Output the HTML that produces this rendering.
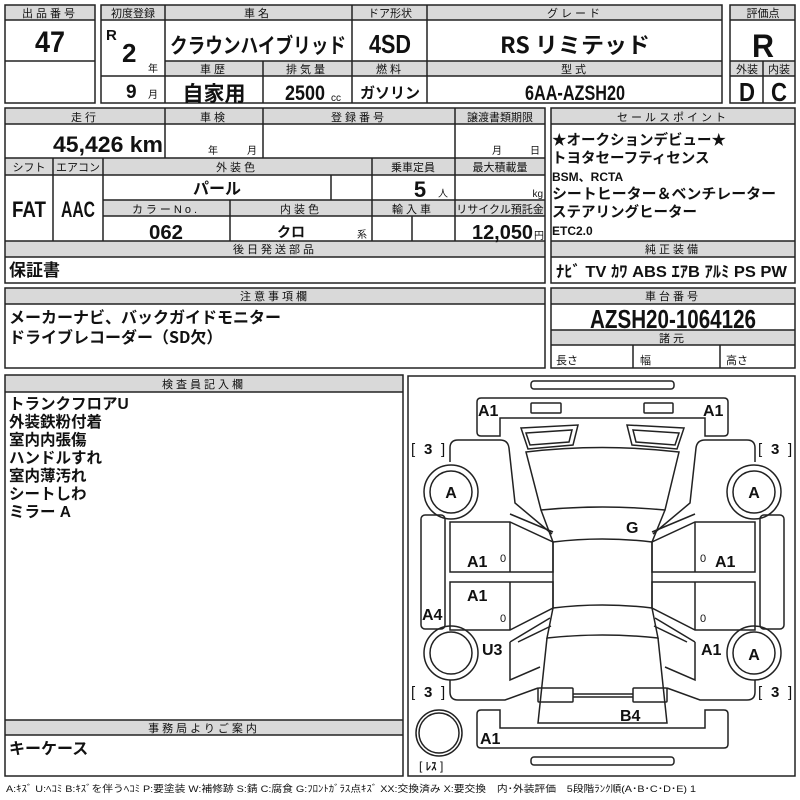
<!DOCTYPE html>
<html><head><meta charset="utf-8"><style>
html,body{margin:0;padding:0;background:#fff;}
svg{display:block;}
text{font-family:"Liberation Sans Narrow","Liberation Sans","Noto Sans CJK JP",sans-serif;fill:#111;}
.h{font-size:11px;text-anchor:middle;letter-spacing:3px;}
.b{font-weight:bold;}
.m{text-anchor:middle;}
.e{text-anchor:end;}
.j{font-family:"Noto Sans CJK JP",sans-serif;font-weight:bold;}
.g{fill:#d9d9d9;stroke:none;}
.L{stroke:#222;stroke-width:1.5;fill:none;}
.c{stroke:#222;stroke-width:1.5;fill:none;}
</style></head><body>
<svg width="800" height="800" viewBox="0 0 800 800" xmlns="http://www.w3.org/2000/svg">
<rect class="g" x="5" y="5" width="90" height="15"/>
<rect class="g" x="101" y="5" width="621" height="15"/>
<rect class="g" x="165" y="61" width="557" height="15"/>
<rect class="g" x="730" y="5" width="65" height="15"/>
<rect class="g" x="730" y="61" width="65" height="15"/>
<rect class="g" x="5" y="108" width="540" height="16"/>
<rect class="g" x="5" y="158" width="540" height="17"/>
<rect class="g" x="103" y="200" width="442" height="16"/>
<rect class="g" x="5" y="241" width="540" height="16"/>
<rect class="g" x="551" y="108" width="244" height="16"/>
<rect class="g" x="551" y="241" width="244" height="16"/>
<rect class="g" x="5" y="288" width="540" height="16"/>
<rect class="g" x="551" y="288" width="244" height="16"/>
<rect class="g" x="551" y="330" width="244" height="15"/>
<rect class="g" x="5" y="375" width="398" height="17"/>
<rect class="g" x="5" y="720" width="398" height="15"/>

<g class="L">
<rect x="5" y="5" width="90" height="98"/>
<path d="M5 20H95M5 61H95"/>
<rect x="101" y="5" width="621" height="98"/>
<path d="M101 20H722M165 61H722M101 76H722M165 5V103M352 5V103M427 5V103M263 61V103"/>
<rect x="730" y="5" width="65" height="98"/>
<path d="M730 20H795M730 61H795M730 76H795M763 61V103"/>
<rect x="5" y="108" width="540" height="175"/>
<path d="M5 124H545M5 158H545M5 175H545M103 200H545M103 216H545M5 241H545M5 257H545"/>
<path d="M165 108V158M263 108V158M455 108V241M53 158V241M103 158V241M372 158V241M331 175V200M230 200V241M412 216V241"/>
<rect x="551" y="108" width="244" height="175"/>
<path d="M551 124H795M551 241H795M551 257H795"/>
<rect x="5" y="288" width="540" height="80"/>
<path d="M5 304H545"/>
<rect x="551" y="288" width="244" height="80"/>
<path d="M551 304H795M551 330H795M551 345H795M633 345V368M720 345V368"/>
<rect x="5" y="375" width="398" height="401"/>
<path d="M5 392H403M5 720H403M5 735H403"/>
<rect x="408" y="376" width="387" height="400"/>
</g>

<text class="h" x="50" y="17">出品番号</text>
<text class="m b" x="50" y="52" font-size="30" textLength="30" lengthAdjust="spacingAndGlyphs">47</text>
<text class="h" x="133" y="17" style="letter-spacing:0">初度登録</text>
<text class="h" x="258" y="17">車名</text>
<text class="h" x="390" y="17" style="letter-spacing:0">ドア形状</text>
<text class="h" x="575" y="17">グレード</text>
<text class="b" x="106" y="40" font-size="15">R</text>
<text class="b" x="122" y="62" font-size="26">2</text>
<text x="148" y="72" font-size="10">年</text>
<text class="b" x="126" y="98" font-size="19">9</text>
<text x="148" y="98" font-size="10">月</text>
<text class="m j" x="258" y="53" font-size="21" textLength="176" lengthAdjust="spacingAndGlyphs">クラウンハイブリッド</text>
<text class="m b" x="390" y="53" font-size="26" textLength="42" lengthAdjust="spacingAndGlyphs">4SD</text>
<text class="m j" x="575" y="53" font-size="22" textLength="150" lengthAdjust="spacingAndGlyphs">RS リミテッド</text>
<text class="h" x="214" y="73">車歴</text>
<text class="h" x="307" y="73">排気量</text>
<text class="h" x="390" y="73">燃料</text>
<text class="h" x="575" y="73">型式</text>
<text class="m j" x="214" y="101" font-size="21">自家用</text>
<text class="b" x="285" y="100" font-size="21" textLength="40" lengthAdjust="spacingAndGlyphs">2500</text>
<text x="331" y="101" font-size="10">cc</text>
<text class="m j" x="390" y="98" font-size="15">ガソリン</text>
<text class="m b" x="575" y="100" font-size="21" textLength="100" lengthAdjust="spacingAndGlyphs">6AA-AZSH20</text>
<text class="h" x="763" y="17" style="letter-spacing:0">評価点</text>
<text class="m b" x="763" y="57" font-size="32" textLength="22" lengthAdjust="spacingAndGlyphs">R</text>
<text class="h" x="747" y="73" style="letter-spacing:0">外装</text>
<text class="h" x="779" y="73" style="letter-spacing:0">内装</text>
<text class="m b" x="747" y="101" font-size="26" textLength="16" lengthAdjust="spacingAndGlyphs">D</text>
<text class="m b" x="779" y="101" font-size="26" textLength="16" lengthAdjust="spacingAndGlyphs">C</text>

<text class="h" x="85" y="121">走行</text>
<text class="h" x="214" y="121">車検</text>
<text class="h" x="359" y="121">登録番号</text>
<text class="h" x="500" y="121" style="letter-spacing:0">譲渡書類期限</text>
<text class="b" x="53" y="152" font-size="22" textLength="110" lengthAdjust="spacingAndGlyphs">45,426 km</text>
<text x="208" y="154" font-size="10">年</text>
<text x="247" y="154" font-size="10">月</text>
<text x="492" y="154" font-size="10">月</text>
<text x="530" y="154" font-size="10">日</text>
<text class="h" x="29" y="171" style="letter-spacing:0">シフト</text>
<text class="h" x="78" y="171" style="letter-spacing:0">エアコン</text>
<text class="h" x="237" y="171">外装色</text>
<text class="h" x="413" y="171" style="letter-spacing:0">乗車定員</text>
<text class="h" x="500" y="171" style="letter-spacing:0">最大積載量</text>
<text class="m b" x="29" y="217" font-size="22" textLength="34" lengthAdjust="spacingAndGlyphs">FAT</text>
<text class="m b" x="78" y="217" font-size="22" textLength="34" lengthAdjust="spacingAndGlyphs">AAC</text>
<text class="m j" x="217" y="194" font-size="16">パール</text>
<text class="m b" x="420" y="197" font-size="22">5</text>
<text x="438" y="197" font-size="10">人</text>
<text class="e" x="543" y="197" font-size="10">kg</text>
<text class="h" x="166" y="213">カラーNo.</text>
<text class="h" x="301" y="213">内装色</text>
<text class="h" x="413" y="213">輸入車</text>
<text class="h" x="500" y="213" font-size="10" style="letter-spacing:0">リサイクル預託金</text>
<text class="m b" x="166" y="239" font-size="20" textLength="34" lengthAdjust="spacingAndGlyphs">062</text>
<text class="m j" x="291" y="237" font-size="14">クロ</text>
<text x="357" y="238" font-size="10">系</text>
<text class="b" x="472" y="239" font-size="20" textLength="61" lengthAdjust="spacingAndGlyphs">12,050</text>
<text x="534" y="239" font-size="10">円</text>
<text class="h" x="275" y="253">後日発送部品</text>
<text class="j" x="9" y="276" font-size="17">保証書</text>

<text class="h" x="673" y="121">セールスポイント</text>
<g class="j" font-size="14.5">
<text x="552" y="145">★オークションデビュー★</text>
<text x="552" y="163">トヨタセーフティセンス</text>
<text x="552" y="181" font-size="12" class="b">BSM、RCTA</text>
<text x="552" y="199" textLength="224" lengthAdjust="spacingAndGlyphs">シートヒーター＆ベンチレーター</text>
<text x="552" y="217">ステアリングヒーター</text>
<text x="552" y="235" font-size="12" class="b">ETC2.0</text>
</g>
<text class="h" x="673" y="253">純正装備</text>
<text class="b" x="556" y="277" font-size="16" textLength="231" lengthAdjust="spacingAndGlyphs">ﾅﾋﾞ TV ｶﾜ ABS ｴｱB ｱﾙﾐ PS PW</text>

<text class="h" x="275" y="300">注意事項欄</text>
<text class="j" x="9" y="323" font-size="16">メーカーナビ、バックガイドモニター</text>
<text class="j" x="9" y="343" font-size="16">ドライブレコーダー（SD欠）</text>
<text class="h" x="673" y="300">車台番号</text>
<text class="m b" x="673" y="328" font-size="26" textLength="166" lengthAdjust="spacingAndGlyphs">AZSH20-1064126</text>
<text class="h" x="673" y="342">諸元</text>
<text x="556" y="364" font-size="11">長さ</text>
<text x="640" y="364" font-size="11">幅</text>
<text x="726" y="364" font-size="11">高さ</text>

<text class="h" x="204" y="388">検査員記入欄</text>
<g class="j" font-size="15.5">
<text x="9" y="409">トランクフロアU</text>
<text x="9" y="427">外装鉄粉付着</text>
<text x="9" y="445">室内内張傷</text>
<text x="9" y="463">ハンドルすれ</text>
<text x="9" y="481">室内薄汚れ</text>
<text x="9" y="499">シートしわ</text>
<text x="9" y="517">ミラー A</text>
</g>
<text class="h" x="204" y="732">事務局よりご案内</text>
<text class="j" x="9" y="754" font-size="16">キーケース</text>

<text x="6" y="792" font-size="9.5" textLength="690" lengthAdjust="spacingAndGlyphs">A:ｷｽﾞ U:ﾍｺﾐ B:ｷｽﾞを伴うﾍｺﾐ P:要塗装 W:補修跡 S:錆 C:腐食 G:ﾌﾛﾝﾄｶﾞﾗｽ点ｷｽﾞ XX:交換済み X:要交換　内･外装評価　5段階ﾗﾝｸ順(A･B･C･D･E) 1</text>

<g class="c">
<rect x="531" y="381" width="143" height="8" rx="3"/>
<rect x="531" y="757" width="143" height="8" rx="3"/>
<path d="M481 398H724Q728 398 728 402V432Q728 436 724 436H705V418H500V436H481Q477 436 477 432V402Q477 398 481 398Z"/>
<path d="M481 710H500V728H705V710H724Q728 710 728 714V744Q728 748 724 748H481Q477 748 477 744V714Q477 710 481 710Z"/>
<rect x="531" y="403" width="30" height="10" rx="1"/>
<rect x="644" y="403" width="29" height="10" rx="1"/>
<path d="M521 428L578 425L573 445L528 449Z M526 433L572 430L569 442L530 445Z"/>
<path d="M684 428L627 425L632 445L677 449Z M679 433L633 430L636 442L675 445Z"/>
<path d="M526 452Q602 443 679 452L665 510Q602 504 541 510Z"/>
<path d="M541 510L553 542Q602 536 652 542L665 510"/>
<path d="M553 542V608M652 542V608M553 608Q602 602 652 608"/>
<path d="M553 608L547 638Q602 632 658 638L652 608"/>
<path d="M547 638L538 723H667L658 638"/>
<rect x="538" y="688" width="35" height="14" rx="1"/>
<rect x="633" y="688" width="34" height="14" rx="1"/>
<path d="M573 694H633M573 697H633"/>
<path d="M450 462V448Q450 440 458 440H500Q508 440 509 448L515 503L552 534"/>
<path d="M510 514L553 532"/>
<path d="M450 522H510L553 542V572H450Z"/>
<path d="M510 522V572"/>
<path d="M450 582H553V608L510 630H450Z M510 582V630"/>
<rect x="421" y="515" width="24" height="114" rx="4"/>
<path d="M510 642L550 618M510 642V680L540 667"/>
<path d="M450 680V692Q450 700 458 700H505L538 688"/>
<path d="M518 642L551 626"/>
<path d="M755 462V448Q755 440 747 440H705Q697 440 696 448L690 503L653 534"/>
<path d="M695 514L652 532"/>
<path d="M755 522H695L652 542V572H755Z"/>
<path d="M695 522V572"/>
<path d="M755 582H652V608L695 630H755Z M695 582V630"/>
<rect x="760" y="515" width="24" height="114" rx="4"/>
<path d="M695 642L655 618M695 642V680L665 667"/>
<path d="M755 680V692Q755 700 747 700H700L667 688"/>
<path d="M687 642L654 626"/>
<circle cx="451" cy="492" r="27"/><circle cx="451" cy="492" r="21"/>
<circle cx="451" cy="653" r="27"/><circle cx="451" cy="653" r="21"/>
<circle cx="754" cy="492" r="27"/><circle cx="754" cy="492" r="21"/>
<circle cx="754" cy="653" r="27"/><circle cx="754" cy="653" r="21"/>
<circle cx="439" cy="733" r="23"/><circle cx="439" cy="733" r="20"/>
</g>
<g class="b" font-size="16">
<text x="478" y="416">A1</text>
<text x="703" y="416">A1</text>
<text class="m" x="451" y="498">A</text>
<text class="m" x="754" y="498">A</text>
<text x="626" y="533">G</text>
<text x="467" y="567">A1</text>
<text x="715" y="567">A1</text>
<text x="467" y="601">A1</text>
<text x="422" y="620">A4</text>
<text x="482" y="655">U3</text>
<text x="701" y="655">A1</text>
<text class="m" x="754" y="660">A</text>
<text x="620" y="721">B4</text>
<text x="480" y="744">A1</text>
</g>
<g font-size="11">
<text x="500" y="562">0</text><text x="700" y="562">0</text>
<text x="500" y="622">0</text><text x="700" y="622">0</text>
</g>
<g font-size="15" class="b">
<text x="411" y="454" font-weight="normal">[</text><text x="424" y="454">3</text><text x="441" y="454" font-weight="normal">]</text>
<text x="758" y="454" font-weight="normal">[</text><text x="771" y="454">3</text><text x="788" y="454" font-weight="normal">]</text>
<text x="411" y="697" font-weight="normal">[</text><text x="424" y="697">3</text><text x="441" y="697" font-weight="normal">]</text>
<text x="758" y="697" font-weight="normal">[</text><text x="771" y="697">3</text><text x="788" y="697" font-weight="normal">]</text>
</g>
<text x="419" y="770" font-size="12">[ <tspan class="j" font-size="11">ﾚｽ</tspan> ]</text>
</svg>
</body></html>
